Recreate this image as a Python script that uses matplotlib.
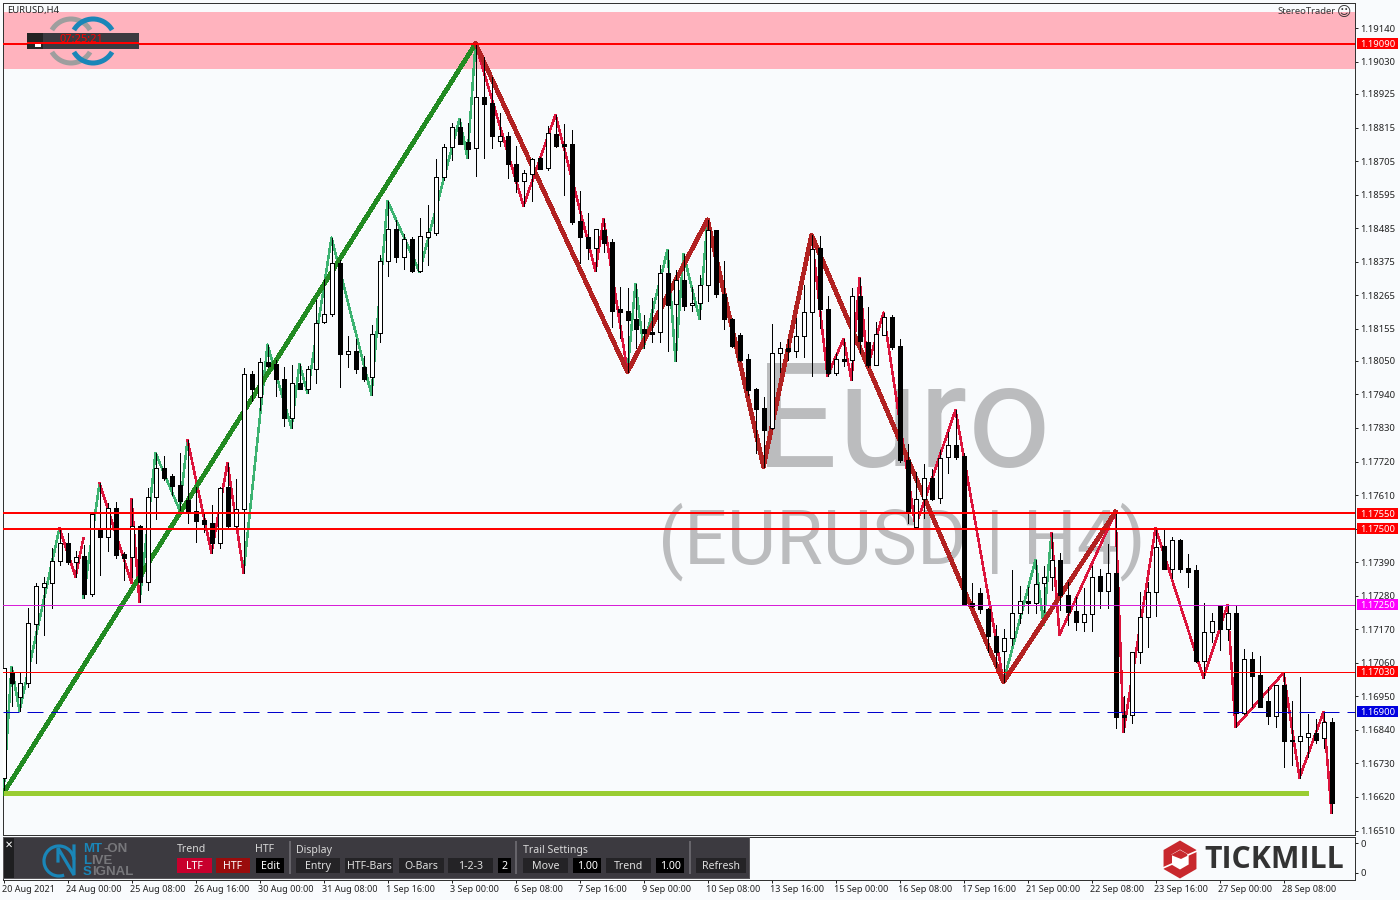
import numpy as np
import matplotlib
matplotlib.use('Agg')
import matplotlib.pyplot as plt
from matplotlib.patches import Rectangle, Arc, RegularPolygon, Polygon
from matplotlib.transforms import ScaledTranslation

# prices in points (1 point = 0.00001), one entry per H4 bar
opens = [116683,117030,116948,116994,117188,117309,117322,117394,117453,117391,
         117411,117286,117502,117473,117568,117417,117407,117509,117325,117604,
         117699,117673,117644,117594,117558,117529,117519,117453,117637,117509,
         117565,118008,117932,118047,118040,117991,117863,117978,117958,118024,
         118178,118204,118372,118073,118083,118030,117998,118142,118378,118483,
         118391,118450,118345,118457,118470,118654,118752,118818,118768,118749,
         118916,118896,118772,118788,118696,118640,118663,118716,118683,118795,
         118762,118762,118509,118457,118421,118480,118440,118221,118214,118188,
         118155,118145,118145,118339,118237,118316,118234,118240,118299,118480,
         118270,118188,118135,118057,117958,117896,117830,118076,118093,118083,
         118132,118211,118421,118221,118011,118057,118053,118263,118112,118037,
         118135,118194,118099,117725,117506,117598,117666,117601,117735,117775,
         117739,117257,117289,117237,117148,117099,117142,117224,117263,117257,
         117322,117342,117398,117283,117230,117194,117220,117345,117296,117355,
         116889,116889,117096,117211,117293,117443,117368,117463,117371,117365,
         117066,117161,117247,117171,117224,116896,117073,117020,116935,116886,
         116988,116807,116804,116817,116830,116814,116866]
closes = [117043,116994,116994,117191,117312,117322,117394,117453,117391,117407,
          117286,117548,117473,117568,117414,117404,117509,117325,117604,117699,
          117666,117640,117591,117555,117525,117516,117453,117634,117509,117565,
          118008,117958,118047,118034,117991,117863,117978,117958,118024,118175,
          118204,118372,118073,118083,118024,117991,118139,118378,118483,118391,
          118450,118345,118460,118473,118654,118752,118818,118762,118745,118916,
          118893,118788,118788,118696,118640,118667,118713,118680,118798,118755,
          118755,118506,118457,118421,118483,118437,118214,118211,118185,118155,
          118142,118139,118339,118234,118316,118230,118240,118299,118480,118270,
          118188,118099,118053,117955,117893,117824,118076,118093,118083,118132,
          118211,118417,118221,118011,118057,118050,118263,118116,118037,118139,
          118194,118096,117725,117552,117598,117666,117598,117732,117775,117735,
          117253,117247,117237,117148,117096,117142,117224,117263,117257,117319,
          117342,117398,117283,117227,117194,117220,117342,117296,117355,116883,
          116883,117096,117211,117293,117440,117368,117463,117368,117358,117066,
          117161,117198,117171,117224,116896,117073,117017,116915,116886,116988,
          116804,116804,116820,116830,116807,116866,116601]
highs = [117043,117047,117027,117240,117322,117342,117437,117502,117486,117427,
         117447,117552,117650,117584,117588,117424,117598,117512,117634,117748,
         117739,117680,117748,117791,117637,117555,117578,117637,117716,117663,
         118027,118017,118060,118103,118053,118030,118037,118040,118034,118250,
         118319,118454,118381,118132,118122,118067,118168,118398,118575,118513,
         118467,118457,118519,118562,118713,118762,118831,118844,118831,119090,
         119047,118981,118863,118801,118755,118677,118716,118719,118821,118857,
         118827,118808,118608,118535,118483,118516,118450,118293,118290,118303,
         118201,118257,118365,118414,118349,118401,118293,118332,118513,118480,
         118378,118191,118142,118073,117962,117932,118171,118112,118122,118191,
         118299,118463,118460,118263,118076,118122,118290,118322,118227,118178,
         118208,118201,118122,117778,117686,117712,117696,117758,117817,117889,
         117748,117322,117306,117240,117184,117171,117365,117312,117309,117398,
         117378,117486,117420,117325,117276,117306,117378,117368,117450,117555,
         116952,117096,117293,117325,117502,117496,117473,117466,117417,117381,
         117257,117224,117247,117250,117247,117106,117096,117083,116981,116988,
         117027,116935,117014,116893,116876,116899,116879]
lows = [116633,116919,116902,116981,117060,117152,117240,117381,117384,117342,
        117273,117279,117348,117427,117404,117332,117342,117260,117299,117532,
        117660,117611,117561,117519,117457,117489,117420,117437,117506,117506,
        117355,117919,117889,118030,117935,117837,117830,117958,117945,117978,
        118175,118198,117965,118030,118011,117985,117939,118112,118329,118375,
        118352,118342,118342,118365,118463,118644,118709,118762,118716,118657,
        118716,118749,118755,118650,118604,118558,118575,118680,118677,118752,
        118595,118499,118372,118385,118345,118408,118162,118126,118014,118093,
        118093,118112,118112,118083,118050,118217,118214,118188,118247,118260,
        118155,118096,118050,117939,117748,117703,117827,118014,118053,118063,
        118063,118001,118158,118001,118004,118034,117988,118076,118030,118037,
        118135,118089,117719,117519,117506,117535,117594,117584,117683,117729,
        117250,117243,117224,117096,117047,116997,117119,117191,117224,117224,
        117227,117299,117234,117184,117168,117165,117165,117240,117240,116847,
        116833,116863,117060,117112,117214,117368,117339,117358,117309,117063,
        117011,117129,117102,117135,116850,116893,116915,116915,116860,116850,
        116719,116725,116683,116751,116797,116781,116568]

# small zigzag, up legs green and down legs red
zz_up_bars = [[0,1,2,7], [10,12], [17,19,22,23],
              [30,33,36,37,38,41,46,48,52,57,58,59],
              [78,79,80,83,84,85,87,88], [125,129,130,131]]
zz_up_prices = [[116633,117047,116902,117502], [117273,117650],
                [117260,117748,117561,117791],
                [117355,118103,117830,118040,117945,118454,117939,118575,118342,118844,118716,119090],
                [118014,118303,118093,118414,118050,118401,118188,118513],
                [116997,117398,117184,117486]]
zz_down_bars = [[7,9,10], [12,16,16,17], [23,26,28,30], [59,65,69,74,75,78],
                [88,95,101,103,105,106,107,108,110,114,119,125],
                [131,132,139,140,144,150,153,154,160,162,165,166]]
zz_down_prices = [[117502,117342,117470], [117650,117322,117598,117260],
                  [117791,117420,117716,117355],
                  [119090,118558,118857,118345,118516,118014],
                  [118513,117703,118463,118001,118122,117988,118322,118030,118208,117506,117889,116997],
                  [117486,117152,117555,116833,117502,117011,117250,116850,117027,116683,116899,116568]]

# big zigzag
big_bars = [0, 59, 78, 88, 95, 101, 125, 139]
big_prices = [116633, 119090, 118014, 118513, 117703, 118463, 116997, 117555]

# levels
zone_top = 119195
zone_bottom = 119008
level_top = 119090
level_res1 = 117550
level_res2 = 117500
level_mid = 117250
level_low = 117030
level_dash = 116900
support = 116633
support_end_bar = 163

price_ticks = [119140,119030,118925,118815,118705,118595,118485,118375,118265,118155,
               118050,117940,117830,117720,117610,117500,117390,117280,117170,117060,
               116950,116840,116730,116620,116510]
date_labels = ['20 Aug 2021','24 Aug 00:00','25 Aug 08:00','26 Aug 16:00','30 Aug 00:00',
               '31 Aug 08:00','1 Sep 16:00','3 Sep 00:00','6 Sep 08:00','7 Sep 16:00',
               '9 Sep 00:00','10 Sep 08:00','13 Sep 16:00','15 Sep 00:00','16 Sep 08:00',
               '17 Sep 16:00','21 Sep 00:00','22 Sep 08:00','23 Sep 16:00','27 Sep 00:00',
               '28 Sep 08:00']
bars_per_label = 8

BG = '#f9fbfd'
GREEN_THIN = '#3cb371'
RED_THIN = '#dc143c'
GREEN_BIG = '#228b22'
RED_BIG = '#b22222'
PANEL = '#3c3a40'
FONT = 'Noto Sans'
PX = 0.72  # one pixel in points at dpi 100

plt.rcParams['font.family'] = [FONT, 'DejaVu Sans']

W, H = 1400, 900
fig = plt.figure(figsize=(W / 100, H / 100), dpi=100, facecolor=BG)


def px_axes(left, top, right, bottom, **kw):
    # axes from pixel box of the picture
    return fig.add_axes([left / W, 1 - bottom / H, (right - left) / W, (bottom - top) / H], **kw)


p = lambda v: np.asarray(v, dtype=float) / 1e5

ax = px_axes(2.5, 2.5, 1354.5, 834.5, facecolor=BG)
ax.set_xlim(-0.125, 168.875)
ax.set_ylim(1.16497, 1.19225)

over = fig.add_axes([0, 0, 1, 1], zorder=5)
over.set_xlim(0, W)
over.set_ylim(H, 0)
over.axis('off')

# zone
ax.axhspan(p(zone_bottom), p(zone_top), facecolor='#ffb3be', edgecolor='none', zorder=1)

# watermark
ax.text(903, 467, 'Euro', transform=over.transData, family='Roboto', fontsize=105,
        color='#bbbcbe', ha='center', va='baseline', zorder=2)
ax.text(902, 564, '(EURUSD | H4)', transform=over.transData, family='Roboto', fontsize=54.5,
        color='#bbbcbe', ha='center', va='baseline', zorder=2)

# zigzags
for bars, prices in zip(zz_up_bars, zz_up_prices):
    ax.plot(bars, p(prices), color=GREEN_THIN, lw=1.5 * PX, antialiased=False, zorder=3,
            solid_capstyle='round')
for bars, prices in zip(zz_down_bars, zz_down_prices):
    ax.plot(bars, p(prices), color=RED_THIN, lw=1.5 * PX, antialiased=False, zorder=3,
            solid_capstyle='round')
ax.plot(big_bars[:2], p(big_prices[:2]), color=GREEN_BIG, lw=3.5 * PX, antialiased=False, zorder=4)
ax.plot(big_bars[1:], p(big_prices[1:]), color=RED_BIG, lw=3.5 * PX, antialiased=False, zorder=4)

# candles
x = np.arange(len(opens))
o, c, hi, lo = p(opens), p(closes), p(highs), p(lows)
ax.vlines(x, lo, hi, color='black', lw=PX, antialiased=False, zorder=5)
body_low = np.minimum(o, c)
body_h = np.abs(c - o)
up = c >= o
ax.bar(x[up], body_h[up], bottom=body_low[up], width=0.5, facecolor='white',
       edgecolor='black', lw=PX, antialiased=False, zorder=6)
ax.bar(x[~up], body_h[~up], bottom=body_low[~up], width=0.5, facecolor='black',
       edgecolor='black', lw=PX, antialiased=False, zorder=6)

# horizontal levels
ax.axhline(p(level_top), color='red', lw=2 * PX, antialiased=False, zorder=7)
ax.axhline(p(level_res1), color='red', lw=2 * PX, antialiased=False, zorder=7)
ax.axhline(p(level_res2), color='red', lw=2 * PX, antialiased=False, zorder=7)
ax.axhline(p(level_mid), color='#d81ed8', lw=PX, zorder=7)
ax.axhline(p(level_low), color='red', lw=PX, zorder=7)
ax.axhline(p(level_dash), color='#0000cd', lw=PX, zorder=7, dashes=(16, 8))
ax.plot([0, support_end_bar], p([support, support]), color='#9acd32', lw=5 * PX,
        antialiased=False, solid_capstyle='butt', zorder=7)

# right price axis
ax.yaxis.tick_right()
ax.set_yticks(p(price_ticks))
ax.set_yticklabels(['%.5f' % v for v in p(price_ticks)], va='center_baseline')
ax.tick_params(axis='y', length=3 * PX, width=PX, pad=2, labelsize=6.8, colors='#222222')
ax.set_xticks([])
for s in ax.spines.values():
    s.set_linewidth(PX)
    s.set_color('#333333')

# level boxes on the price axis
tr = ax.get_yaxis_transform()
for val, col in [(level_top, 'red'), (level_res1, 'red'), (level_res2, 'red'),
                 (level_mid, '#ff00ff'), (level_low, 'red'), (level_dash, '#0000e0')]:
    ax.add_patch(Rectangle((1.0015, p(val) - 0.00018), 0.0305, 0.00036, transform=tr,
                           facecolor=col, edgecolor='none', clip_on=False, zorder=10))
    ax.text(1.0041, p(val), '%.5f' % p(val), transform=tr, color='white', fontsize=6.8,
            va='center_baseline', ha='left', clip_on=False, zorder=11)

# lower pane with the dates
ax2 = px_axes(2.5, 836.5, 1354.5, 879.5, facecolor=BG)
ax2.set_xlim(ax.get_xlim())
ax2.set_ylim(0, 1)
ax2.yaxis.tick_right()
ax2.set_yticks([0.16, 0.84])
ax2.set_yticklabels(['0', '0'])
ax2.set_xticks(np.arange(len(date_labels)) * bars_per_label)
ax2.set_xticklabels(date_labels, ha='left')
ax2.tick_params(axis='x', length=3 * PX, width=PX, pad=2, labelsize=6.5, colors='#222222')
ax2.tick_params(axis='y', length=3 * PX, width=PX, pad=2, labelsize=6.8, colors='#222222')
shift = ScaledTranslation(-2 * PX / 72, 0, fig.dpi_scale_trans)
for t in ax2.get_xticklabels():
    t.set_transform(t.get_transform() + shift)
for s in ax2.spines.values():
    s.set_linewidth(PX)
    s.set_color('#333333')


def rect(x0, y0, x1, y1, color, **kw):
    over.add_patch(Rectangle((x0, y0), x1 - x0, y1 - y0, facecolor=color, edgecolor='none', **kw))


def label(x0, y0, s, color='#d8d8d8', size=7.6, ha='left', **kw):
    over.text(x0, y0, s, color=color, fontsize=size, ha=ha, va='center', **kw)


# chart title and tag
label(7, 10.5, 'EURUSD,H4', color='#222222', size=6.8)
label(1336, 12, 'StereoTrader', color='#333333', size=6.8, ha='right')
over.text(1344, 12, '\u263a', family='DejaVu Sans', fontsize=10, color='#333333', ha='center', va='center')

# clock logo top left
for cx, col in [(71, '#9e9e9e'), (93, '#1a86b8')]:
    over.add_patch(Arc((cx, 41), 44, 44, theta1=210, theta2=330, color=col, lw=5 * PX))
    over.add_patch(Arc((cx, 41), 44, 44, theta1=30, theta2=150, color=col, lw=5 * PX))
rect(27, 33, 139, 49, PANEL)
rect(27, 33, 43, 49, '#232323')
rect(35, 43, 41, 47, 'white')
label(81, 40, '07:25:21', color='red', size=8, ha='center', fontweight='bold')
rect(27, 42, 139, 44, 'red')

# control panel
rect(3, 837, 749.5, 879, '#5a585c')
rect(4, 838, 748.5, 878, PANEL)
rect(4, 838, 14, 878, '#1e1e20')
over.text(9, 845, '\u2715', family='DejaVu Sans', fontsize=7, color='white', ha='center', va='center')

# MT-ON logo
blue = '#1a86b8'
over.add_patch(Arc((59, 861), 30, 30, theta1=-290, theta2=-5, color=blue, lw=3.2 * PX))
over.plot([58, 58, 74, 74], [861, 848, 875, 846], color=blue, lw=3.2 * PX, solid_joinstyle='miter')
for s, col, xp, yp in [('MT', blue, 83, 849), ('-ON', '#77777b', 104, 849),
                       ('L', blue, 83, 861), ('IVE', '#77777b', 91, 861),
                       ('S', blue, 83, 872), ('IGNAL', '#77777b', 92, 872)]:
    label(xp, yp, s, color=col, size=9.5, fontweight='bold', family='Liberation Sans')

# headers
label(177, 850, 'Trend')
label(255, 850, 'HTF')
label(296, 850, 'Display')
label(523, 850, 'Trail Settings')
for xs in (290, 516, 690):
    rect(xs - 1, 841, xs + 1, 874, '#66646a')

# buttons
btn_labels = ['LTF', 'HTF', 'Edit', 'Entry', 'HTF-Bars', 'O-Bars', '1-2-3', '2',
              'Move', '1.00', 'Trend', '1.00', 'Refresh']
btn_x0 = [177, 216, 256, 296, 345, 399, 448, 498, 523, 573, 606, 656, 696]
btn_x1 = [212, 250, 284, 340, 393, 444, 493, 511, 568, 601, 651, 684, 746]
btn_col = ['#c8002d', '#9a0c0c', '#000000', '#242326', '#242326', '#242326', '#242326',
           '#000000', '#242326', '#000000', '#242326', '#000000', '#242326']
for s, a, b, col in zip(btn_labels, btn_x0, btn_x1, btn_col):
    rect(a, 858, b, 873, col)
    label((a + b) / 2, 866.5, s, color='white' if col != '#242326' else '#e0e0e0', ha='center')

# Tickmill logo
red = '#c8282d'
over.add_patch(RegularPolygon((1180, 859.5), 6, radius=19, orientation=0, facecolor=red, edgecolor='none'))
over.add_patch(RegularPolygon((1180, 859.5), 6, radius=10, orientation=0, facecolor='white', edgecolor='none'))
over.add_patch(Polygon([(1164, 851), (1172, 855), (1172, 864), (1164, 868)], closed=True,
                       facecolor=red, edgecolor='none'))
over.add_patch(Polygon([(1171, 855), (1180, 850), (1189, 855), (1181, 859)], closed=True,
                       facecolor=red, edgecolor='none'))
over.plot([1163, 1172], [868, 864], color='white', lw=1.2)
over.plot([1188, 1197], [855, 851], color='white', lw=1.2)
label(1204, 859.5, 'TICKMILL', color='#333333', size=21.8, fontweight='bold', family='Open Sans')

fig.savefig('out.png', dpi=100, facecolor=BG)
